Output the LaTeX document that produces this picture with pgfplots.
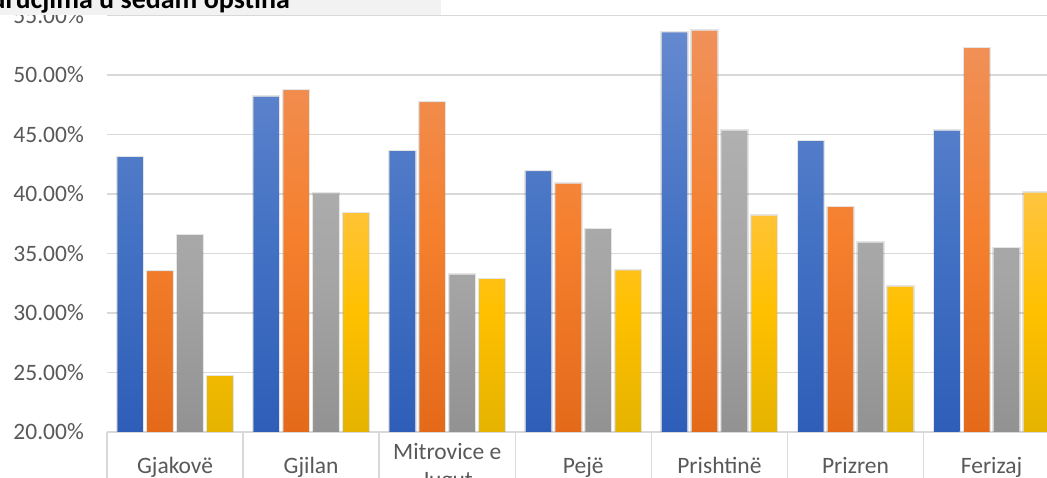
\documentclass[border=0pt]{standalone}
\usepackage{fontspec}
\setmainfont{Carlito}
\usepackage{pgfplots}
\pgfplotsset{compat=1.18}

\definecolor{txt}{HTML}{595959}
\definecolor{gridc}{HTML}{D9D9D9}
\definecolor{titlebg}{HTML}{F2F2F2}
\definecolor{blueT}{HTML}{6589CF}
\definecolor{blueM}{HTML}{4472C4}
\definecolor{blueB}{HTML}{2E5EB8}
\definecolor{orT}{HTML}{F0915A}
\definecolor{orM}{HTML}{F5802E}
\definecolor{orB}{HTML}{E46A1A}
\definecolor{grT}{HTML}{B0B0B0}
\definecolor{grM}{HTML}{A5A5A5}
\definecolor{grB}{HTML}{929292}
\definecolor{yeT}{HTML}{FFC440}
\definecolor{yeM}{HTML}{FFC000}
\definecolor{yeB}{HTML}{E5B300}

% values in percent, one row per municipality
\pgfplotstableread{
x  a      b      c      d
0  43.10  33.50  36.55  24.70
1  48.15  48.70  40.00  38.40
2  43.60  47.70  33.20  32.85
3  41.90  40.85  37.05  33.55
4  53.55  53.70  45.30  38.15
5  44.45  38.90  35.90  32.20
6  45.30  52.25  35.45  40.10
}\data

\begin{document}
\begin{tikzpicture}[x=1pt,y=1pt]
\useasboundingbox (0,0) rectangle (1047,478);
\clip (0,0) rectangle (1047,478);
\fill[white] (0,0) rectangle (1047,478);
\begin{axis}[
    at={(107pt,46pt)}, anchor=south west,
    scale only axis, width=940pt, height=432pt,
    xmin=-0.5, xmax=6.407,
    ymin=0, ymax=36.3,
    y filter/.expression={y-20},
    ybar=4.6pt, bar width=25.3pt,
    axis x line*=bottom, axis y line*=left,
    y axis line style={draw=none},
    x axis line style={draw=gridc, line width=1.5pt},
    ymajorgrids, grid style={draw=gridc, line width=1.5pt},
    major tick length=0pt,
    ytick={0,5,...,35},
    yticklabel={\pgfmathparse{\tick+20}\pgfmathprintnumber[fixed,fixed zerofill,precision=2]{\pgfmathresult}\%},
    /pgf/number format/assume math mode=true,
    yticklabel style={anchor=east, inner sep=0pt, xshift=-23pt, text=txt},
    xtick={0,...,6},
    xticklabels={\strut Gjakovë, \strut Gjilan, {\strut Mitrovice e\\\strut Jugut}, \strut Pejë, \strut Prishtinë, \strut Prizren, \strut Ferizaj},
    xticklabel style={anchor=center, align=center, inner sep=0pt, yshift=-36pt, text=txt},
    extra x ticks={-0.5,0.5,...,6.5},
    extra x tick labels={},
    extra x tick style={grid=none, tick align=outside, major tick length=48pt,
        tick style={draw=gridc, line width=1.5pt}},
    tick label style={font=\fontsize{23.5}{28}\selectfont},
    every axis plot/.append style={preaction={draw=black, draw opacity=0.10, line width=3pt}},
    clip=true,
]
\addplot[draw=none, top color=blueT, bottom color=blueB, middle color=blueM] table[x=x,y=a] {\data};
\addplot[draw=none, top color=orT, bottom color=orB, middle color=orM] table[x=x,y=b] {\data};
\addplot[draw=none, top color=grT, bottom color=grB, middle color=grM] table[x=x,y=c] {\data};
\addplot[draw=none, top color=yeT, bottom color=yeB, middle color=yeM] table[x=x,y=d] {\data};
\end{axis}
\fill[titlebg] (0,463) rectangle (441,478);
\node[anchor=base east, inner sep=0pt, font=\fontsize{28}{32}\selectfont\bfseries] at (290,469) {Distribucija po područjima u sedam opština};
\end{tikzpicture}
\end{document}
